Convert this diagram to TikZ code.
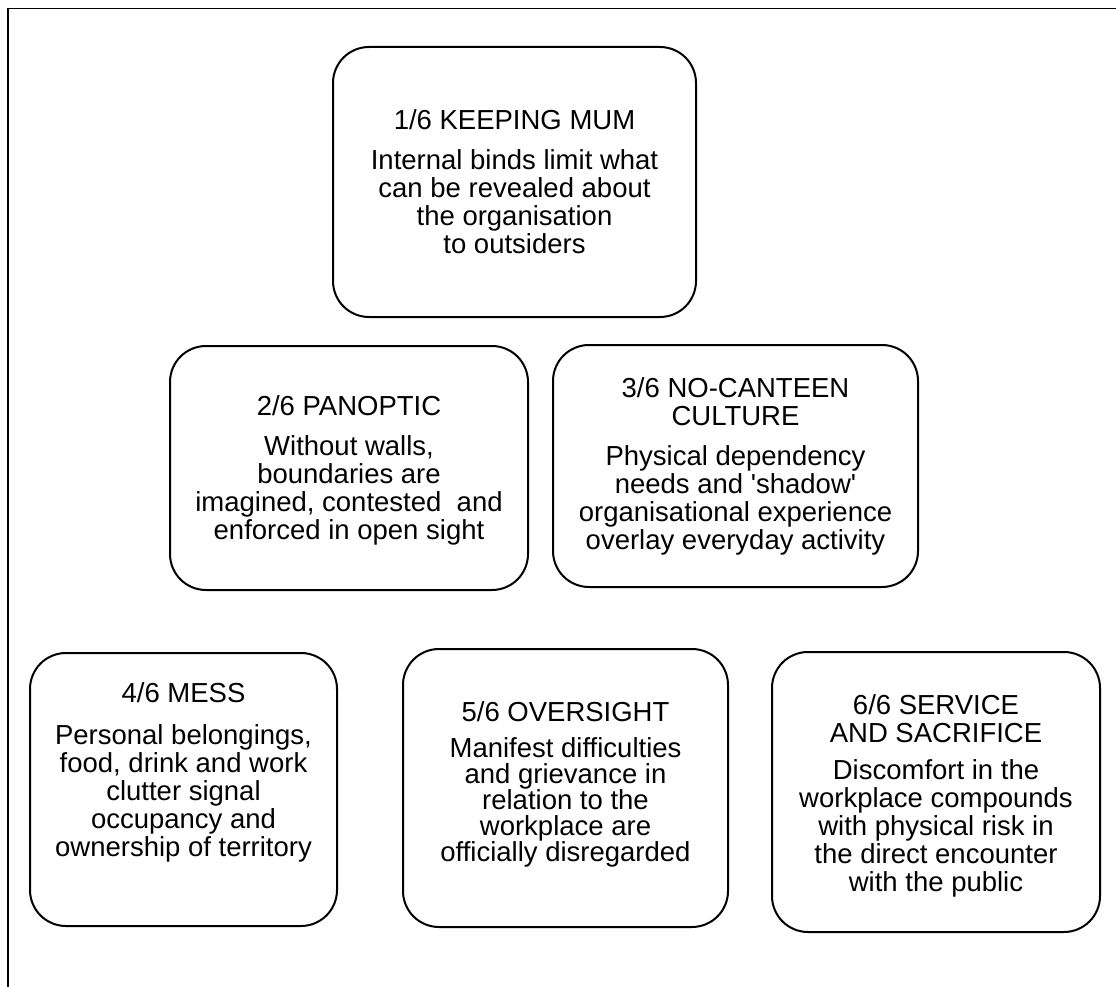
\documentclass[tikz,border=0pt]{standalone}
\usepackage{fontspec}
\setmainfont{Liberation Sans}
\begin{document}
\begin{tikzpicture}[x=1pt,y=-1pt,
  themebox/.style={draw, line width=2pt, rounded corners=36pt, inner sep=0pt},
  themetext/.style={align=center, inner sep=0pt, font=\fontsize{27.5}{28}\selectfont},
  framestyle/.style={line width=1.8pt}]
\useasboundingbox (0,0) rectangle (1116,987);
\draw[framestyle] (8,987) -- (8,8.5) -- (1116,8.5);

\node[themebox, minimum width=363pt, minimum height=270pt] (b1) at (514.5,182) {};
\node[themetext] (t1) at (b1.center)
  {1/6 KEEPING MUM\\[12pt]Internal binds limit what\\can be revealed about\\the organisation\\ to outsiders};

\node[themebox, minimum width=358pt, minimum height=244pt] (b2) at (349,468) {};
\node[themetext] (t2) at ([yshift=-2pt]b2.center)
  {2/6 PANOPTIC\\[12pt]Without walls,\\boundaries are\\imagined, contested\ \ and\\enforced in open sight};

\node[themebox, minimum width=365pt, minimum height=242pt] (b3) at (735.5,466) {};
\node[themetext] (t3) at (b3.center)
  {3/6 NO-CANTEEN\\CULTURE\\[12pt]Physical dependency\\needs and \textquotesingle shadow\textquotesingle\\organisational experience\\overlay everyday activity};

\node[themebox, minimum width=307pt, minimum height=273pt] (b4) at (183.5,789.5) {};
\node[themetext] (t4) at ([yshift=17pt]b4.center)
  {4/6 MESS\\[14pt]Personal belongings,\\food, drink and work\\clutter signal\\occupancy and\\ownership of territory};

\node[themebox, minimum width=325pt, minimum height=278pt] (b5) at (565.5,788) {};
\node[themetext, font=\fontsize{27.5}{26}\selectfont] (t5) at ([yshift=4pt]b5.center)
  {5/6 OVERSIGHT\\[10pt]Manifest difficulties\\and grievance in\\relation to the\\workplace are\\officially disregarded};

\node[themebox, minimum width=328pt, minimum height=280pt] (b6) at (936,792) {};
\node[themetext] (t6) at ([yshift=-4pt]b6.center)
  {6/6 SERVICE\\AND SACRIFICE\\[9pt]Discomfort in the\\workplace compounds\\with physical risk in\\the direct encounter\\with the public};
\end{tikzpicture}
\end{document}
